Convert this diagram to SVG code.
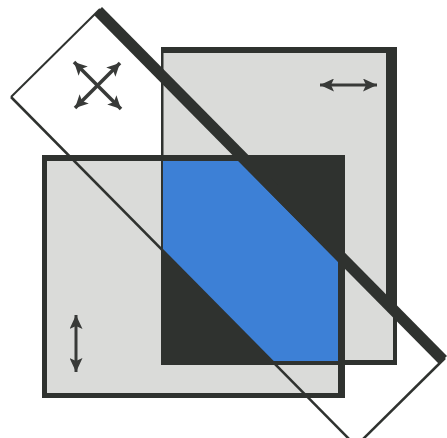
<svg xmlns="http://www.w3.org/2000/svg" width="447" height="438" viewBox="0 0 447 438">
  <style>
    .plate { fill: #dadbd9; }
    .edge { fill: #2f322f; }
    .thin { stroke: #2f322f; fill: none; }
    .arrow { stroke: #383a38; stroke-width: 3; fill: none; }
    .arrow-s { stroke: #383a38; stroke-width: 3.5; fill: none; }
  </style>
  <defs>
    <marker id="head" markerUnits="userSpaceOnUse" markerWidth="15" markerHeight="13" refX="14" refY="6.5" orient="auto-start-reverse">
      <path d="M0,0 L14,6.5 L0,13 L3,6.5 z" fill="#383a38"/>
    </marker>
    <marker id="headS" markerUnits="userSpaceOnUse" markerWidth="14" markerHeight="13" refX="13" refY="6.5" orient="auto-start-reverse">
      <path d="M0,0 L13,6.5 L0,13 L3,6.5 z" fill="#383a38"/>
    </marker>
    <clipPath id="overlapClip">
      <rect x="163" y="161" width="175" height="200"/>
    </clipPath>
  </defs>
  <rect width="447" height="438" fill="#ffffff"/>

  <g id="plate-top-right">
    <rect class="plate" x="162" y="48" width="234" height="316"/>
    <rect class="edge" x="161" y="47" width="235" height="6"/>
    <rect class="edge" x="161" y="47" width="2.5" height="318"/>
    <rect class="edge" x="161" y="360" width="236" height="5"/>
    <rect class="edge" x="393" y="47" width="4" height="318"/>
    <polygon class="edge" points="386,47 396,47 396,306 386,296"/>
    <path class="arrow" d="M320,85 H377" marker-start="url(#head)" marker-end="url(#head)"/>
  </g>

  <g id="plate-bottom-left">
    <rect class="plate" x="42" y="155" width="303" height="243"/>
    <rect class="edge" x="42" y="155" width="303" height="6"/>
    <rect class="edge" x="42" y="155" width="5" height="243"/>
    <rect class="edge" x="42" y="393" width="303" height="5"/>
    <rect class="edge" x="338" y="155" width="7" height="243"/>
    <path class="arrow" d="M76,315 V372" marker-start="url(#head)" marker-end="url(#head)"/>
  </g>

  <g id="overlap">
    <rect class="edge" x="161" y="155" width="184" height="210"/>
    <polygon clip-path="url(#overlapClip)" fill="#3d80d6" points="94,15 439,364 356,446 11,97"/>
  </g>

  <g id="polarizer-strip">
    <polygon class="edge" points="102,7 447,356 439,364 94,15"/>
    <line class="thin" stroke-width="2" x1="11" y1="97" x2="100" y2="9"/>
    <line class="thin" stroke-width="2.5" x1="11" y1="97" x2="356" y2="446"/>
    <line class="thin" stroke-width="2.5" x1="445" y1="358" x2="356" y2="446"/>
    <path class="arrow-s" d="M74,62 L121,109" marker-start="url(#headS)" marker-end="url(#headS)"/>
    <path class="arrow-s" d="M120,63 L75,108" marker-start="url(#headS)" marker-end="url(#headS)"/>
  </g>
</svg>
